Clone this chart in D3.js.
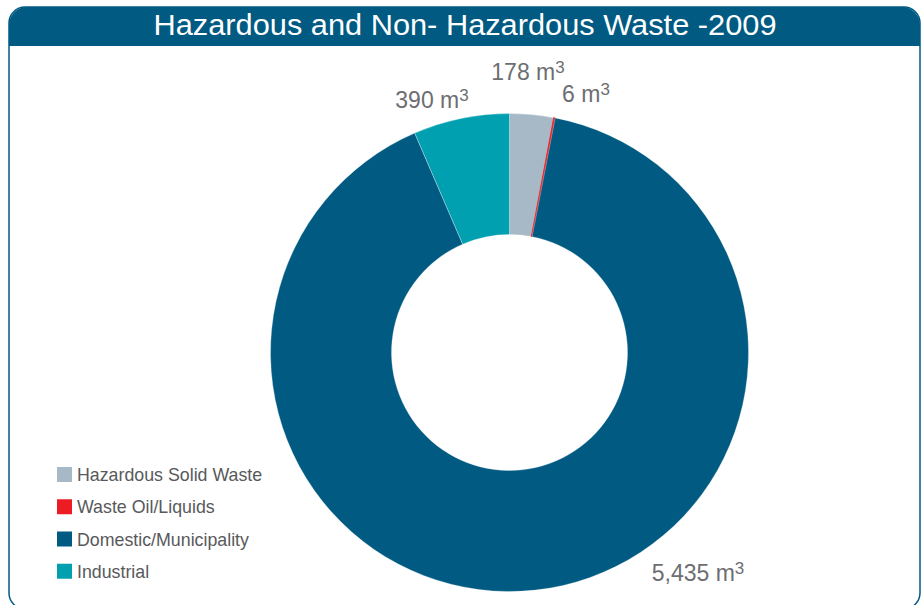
<!DOCTYPE html>
<html>
<head>
<meta charset="utf-8">
<script src="https://cdn.jsdelivr.net/npm/d3@7"></script>
<style>
  html, body { margin: 0; padding: 0; background: #fff; }
  svg { display: block; }
</style>
</head>
<body>
<svg id="chart" width="924" height="605"></svg>
<script>
// Waste volumes for 2009 (cubic metres), in drawing order clockwise from 12 o'clock
const categories = ["Hazardous Solid Waste", "Waste Oil/Liquids", "Domestic/Municipality", "Industrial"];
const volumes = [178, 6, 5435, 390];
const valueLabels = ["178", "6", "5,435", "390"];
const colors = ["#a7b9c6", "#ed1c24", "#005a82", "#00a0b0"];
const title = "Hazardous and Non- Hazardous Waste -2009";

const svg = d3.select("#chart");
const frameColor = "#005a82";

// Outer frame with rounded corners
const fx = 9, fy = 7, fw = 911, fh = 602, r = 16;
svg.append("rect")
  .attr("x", fx).attr("y", fy).attr("width", fw).attr("height", fh)
  .attr("rx", r).attr("ry", r)
  .attr("fill", "#fff").attr("stroke", frameColor).attr("stroke-width", 1.5);

// Title bar: rounded top corners, square bottom
const tbH = 39, tr = 18;
const tbPath = d3.path();
tbPath.moveTo(fx, fy + tbH);
tbPath.lineTo(fx, fy + tr);
tbPath.arcTo(fx, fy, fx + tr, fy, tr);
tbPath.lineTo(fx + fw - tr, fy);
tbPath.arcTo(fx + fw, fy, fx + fw, fy + tr, tr);
tbPath.lineTo(fx + fw, fy + tbH);
tbPath.closePath();
svg.append("path").attr("d", tbPath.toString()).attr("fill", frameColor);

svg.append("text")
  .attr("x", 465).attr("y", 35)
  .attr("text-anchor", "middle")
  .attr("font-family", "Liberation Sans, Arial, sans-serif")
  .attr("font-size", 29)
  .attr("fill", "#fff")
  .attr("textLength", 623)
  .attr("lengthAdjust", "spacingAndGlyphs")
  .text(title);

// Donut
const cx = 509.5, cy = 352.5, outerR = 239, innerR = 118;
const pie = d3.pie().sort(null).value(d => d)(volumes);
const arc = d3.arc().innerRadius(innerR).outerRadius(outerR);

const g = svg.append("g").attr("transform", `translate(${cx},${cy})`);
g.selectAll("path.slice")
  .data(pie)
  .join("path")
  .attr("class", "slice")
  .attr("d", arc)
  .attr("fill", (d, i) => colors[i])
  .attr("stroke", (d, i) => i === 1 ? colors[1] : "#fff")
  .attr("stroke-width", (d, i) => i === 1 ? 0.9 : 0.3);

// Value labels positioned outside the ring
const labelPos = [
  { x: 528, y: 80 },
  { x: 586, y: 102 },
  { x: 698, y: 581 },
  { x: 432, y: 108 }
];
const labels = svg.append("g")
  .attr("font-family", "Liberation Sans, Arial, sans-serif")
  .attr("fill", "#6d6e71");
valueLabels.forEach((v, i) => {
  const t = labels.append("text")
    .attr("x", labelPos[i].x).attr("y", labelPos[i].y)
    .attr("text-anchor", "middle")
    .attr("font-size", 23);
  t.append("tspan").text(v + " m");
  t.append("tspan").attr("font-size", 17).attr("dy", -7).text("3");
});

// Legend
const legend = svg.append("g")
  .attr("font-family", "Liberation Sans, Arial, sans-serif");
const legendY = d3.scaleBand().domain(categories).range([466, 595]).paddingInner(0);
categories.forEach((c, i) => {
  const y = legendY(c);
  legend.append("rect")
    .attr("x", 57).attr("y", y + 1).attr("width", 15).attr("height", 15)
    .attr("fill", colors[i]);
  legend.append("text")
    .attr("x", 77).attr("y", y + 15)
    .attr("font-size", 17.8)
    .attr("fill", "#58595b")
    .text(c);
});
</script>
</body>
</html>
